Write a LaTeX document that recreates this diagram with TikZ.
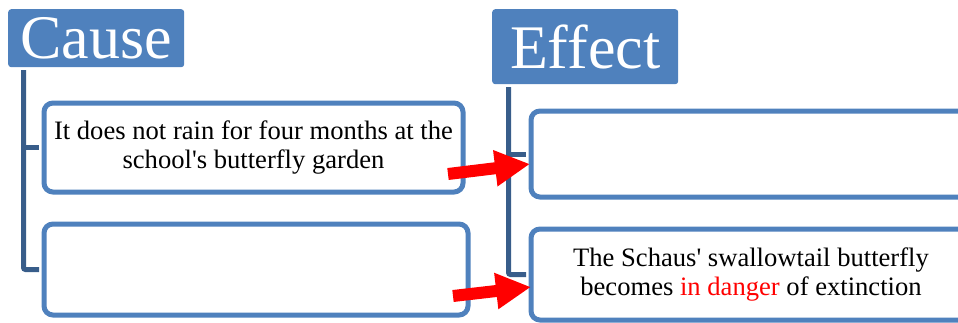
\documentclass[tikz,border=0pt]{standalone}
\usepackage{fontspec}
\setmainfont{Liberation Serif}[Ligatures=TeXOff]
\usetikzlibrary{arrows.meta}
\definecolor{boxblue}{RGB}{79,129,189}
\definecolor{linkblue}{RGB}{56,93,138}
\definecolor{arrowred}{RGB}{255,0,0}
\newcommand{\drawlink}{\draw[link]}
\tikzset{
  headbox/.style={fill=boxblue, text=white, rounded corners=3pt, inner sep=0pt, anchor=north west, font=\fontsize{62}{62}\selectfont},
  textbox/.style={draw=boxblue, line width=5pt, rounded corners=9pt, fill=white, inner sep=0pt, align=center, anchor=north west, font=\fontsize{26.6}{28.5}\selectfont},
  link/.style={draw=linkblue, line width=5pt, rounded corners=2pt, shorten >=2.5pt},
  bigarrow/.style={draw=arrowred, line width=12pt, -{Triangle[length=35pt,width=34pt]}}
}

\begin{document}
\begin{tikzpicture}[x=1pt,y=-1pt]
\useasboundingbox (0,0) rectangle (958,322);
\clip (0,0) rectangle (958,322);
\node[headbox, minimum width=176pt, minimum height=58pt] (causehead) at (8,9) {Cause};
\node[headbox, minimum width=186pt, minimum height=75pt] (effecthead) at (492,9) {Effect};
\node[textbox, minimum width=419pt, minimum height=89pt] (causeA) at (41.5,100.5) {It does not rain for four months at the\\school's butterfly garden};
\node[textbox, minimum width=424pt, minimum height=91pt] (causeB) at (41.5,221.5) {};
\node[textbox, minimum width=440pt, minimum height=86pt] (effectA) at (528.5,108.5) {};
\node[textbox, minimum width=440pt, minimum height=91pt] (effectB) at (528.5,226.5) {The Schaus' swallowtail butterfly\\becomes \textcolor{arrowred}{in danger} of extinction};
\coordinate (causetop) at (23.5,70);
\coordinate (effecttop) at (508.5,87);
\drawlink (causetop) |- (causeB.west);
\drawlink (causetop |- causeA.west) -- (causeA.west);
\drawlink (effecttop) |- (effectB.west);
\drawlink (effecttop |- effectA.west) -- (effectA.west);
\coordinate (arrowAtail) at (448,174);
\coordinate (arrowAtip) at (530,164);
\coordinate (arrowBtail) at (453,296);
\coordinate (arrowBtip) at (531,287);
\draw[bigarrow] (arrowAtail) -- (arrowAtip);
\draw[bigarrow] (arrowBtail) -- (arrowBtip);
\end{tikzpicture}
\end{document}
